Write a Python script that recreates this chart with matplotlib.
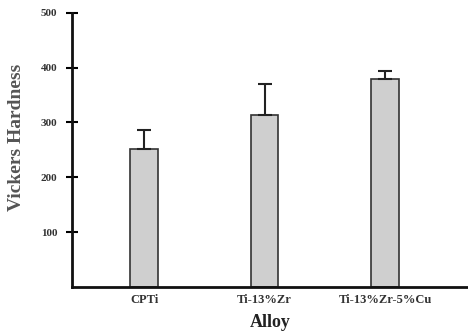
import matplotlib
matplotlib.use("Agg")
import matplotlib.pyplot as plt
import numpy as np

categories = ["CPTi", "Ti-13%Zr", "Ti-13%Zr-5%Cu"]
hardness = [252, 314, 380]
errors = [35, 56, 14]
yticks = [100, 200, 300, 400, 500]

plt.rcParams['font.family'] = ['Liberation Serif', 'DejaVu Serif']

fig = plt.figure(figsize=(4.68, 3.35), dpi=100)
ax = fig.add_axes([72/468, 48/335, 1 - 72/468, (287-12.7)/335])

x = np.arange(len(categories))
ax.bar(x, hardness, width=0.23, color='#cfcfcf', edgecolor='#333333', linewidth=1.2,
       yerr=[np.zeros(len(errors)), errors], capsize=5,
       error_kw=dict(ecolor='#222222', elinewidth=1.5, capthick=1.5))

ax.set_xlim(-0.6, 2.69)
ax.set_ylim(0, 500)
ax.set_yticks(yticks)
ax.set_yticklabels([str(t) for t in yticks], fontsize=8, fontweight='bold', color='#333333')
ax.set_xticks(x)
ax.set_xticklabels(categories, fontsize=9, fontweight='bold', color='#333333')
ax.tick_params(axis='y', direction='inout', length=9, width=1.5, pad=6)
ax.tick_params(axis='x', length=0, pad=5)

for s in ['top', 'right']:
    ax.spines[s].set_visible(False)
for s in ['left', 'bottom']:
    ax.spines[s].set_linewidth(2)
    ax.spines[s].set_color('#111111')

ax.set_ylabel("Vickers Hardness", fontsize=14, fontweight='bold', color='#555555')
ax.yaxis.set_label_coords(-0.118, 0.547)
ax.set_xlabel("Alloy", fontsize=13, fontweight='bold', color='#222222', labelpad=6)

fig.savefig("out.png", dpi=100)
